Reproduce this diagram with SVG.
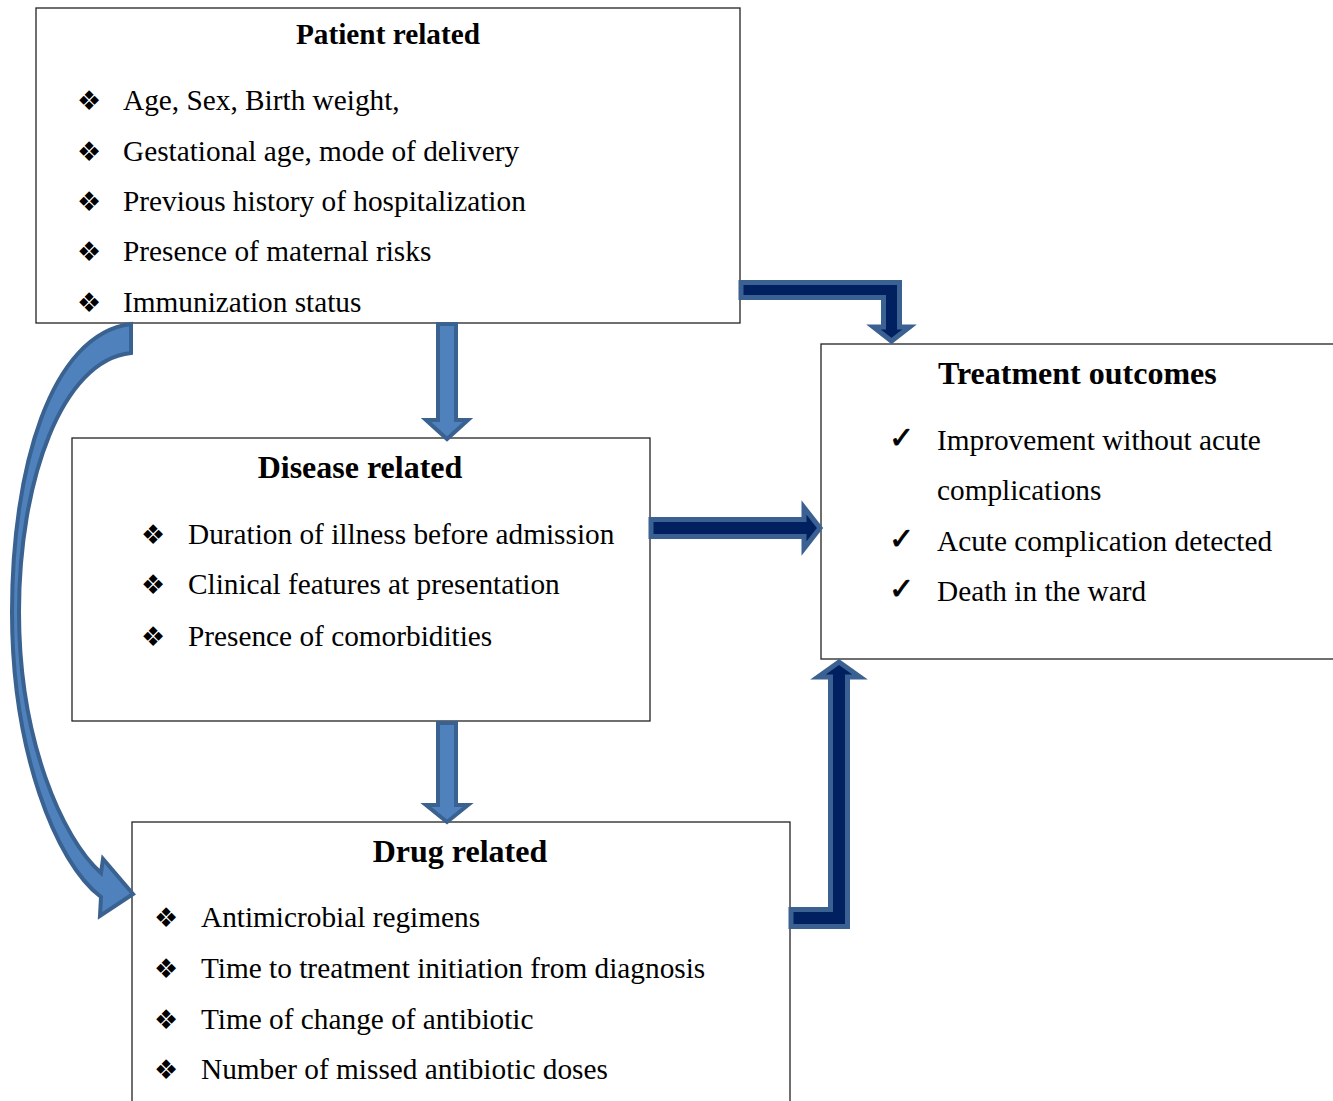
<svg xmlns="http://www.w3.org/2000/svg" width="1333" height="1101" viewBox="0 0 1333 1101">
<style>
.box{fill:#fff;stroke:#222;stroke-width:1.3}
.t{font-family:"Liberation Serif","Times New Roman",serif;font-size:29.3px;fill:#000}
.h{font-weight:bold;font-size:32px}
.hp{font-weight:bold;font-size:29.3px}
.b{font-family:"DejaVu Sans",sans-serif;font-size:27px;fill:#000}
.c{font-family:"DejaVu Sans",sans-serif;font-size:30px;fill:#000;stroke:#000;stroke-width:0.8}
.dark{fill:#002060;stroke:#3b6192;stroke-width:5;stroke-linejoin:miter}
.light{fill:#4f81bd;stroke:#3a6291;stroke-width:4;stroke-linejoin:miter}
</style>
<rect width="1333" height="1101" fill="#fff"/>
<g id="patient">
<rect class="box" x="36" y="8" width="704" height="315"/>
<text class="t hp" x="388" y="44" text-anchor="middle">Patient related</text>
<text class="b" x="77" y="110">❖</text><text class="t" x="123" y="110">Age, Sex, Birth weight,</text>
<text class="b" x="77" y="161">❖</text><text class="t" x="123" y="161">Gestational age, mode of delivery</text>
<text class="b" x="77" y="211">❖</text><text class="t" x="123" y="211">Previous history of hospitalization</text>
<text class="b" x="77" y="261">❖</text><text class="t" x="123" y="261">Presence of maternal risks</text>
<text class="b" x="77" y="312">❖</text><text class="t" x="123" y="312">Immunization status</text>
</g>
<g id="disease">
<rect class="box" x="72" y="438" width="578" height="283"/>
<text class="t h" x="360" y="478" text-anchor="middle">Disease related</text>
<text class="b" x="141" y="544">❖</text><text class="t" x="188" y="544">Duration of illness before admission</text>
<text class="b" x="141" y="594">❖</text><text class="t" x="188" y="594">Clinical features at presentation</text>
<text class="b" x="141" y="646">❖</text><text class="t" x="188" y="646">Presence of comorbidities</text>
</g>
<g id="drug">
<rect class="box" x="132" y="822" width="658" height="290"/>
<text class="t h" x="460" y="862" text-anchor="middle">Drug related</text>
<text class="b" x="154" y="927">❖</text><text class="t" x="201" y="927">Antimicrobial regimens</text>
<text class="b" x="154" y="978">❖</text><text class="t" x="201" y="978">Time to treatment initiation from diagnosis</text>
<text class="b" x="154" y="1029">❖</text><text class="t" x="201" y="1029">Time of change of antibiotic</text>
<text class="b" x="154" y="1079">❖</text><text class="t" x="201" y="1079">Number of missed antibiotic doses</text>
</g>
<g id="outcomes">
<rect class="box" x="821" y="344" width="530" height="315"/>
<text class="t h" x="938" y="384">Treatment outcomes</text>
<text class="c" x="889" y="448">✓</text><text class="t" x="937" y="450">Improvement without acute</text>
<text class="t" x="937" y="500">complications</text>
<text class="c" x="889" y="549">✓</text><text class="t" x="937" y="551">Acute complication detected</text>
<text class="c" x="889" y="599">✓</text><text class="t" x="937" y="601">Death in the ward</text>
</g>
<g id="connectors">
<path class="dark" d="M741,282.5 H899.5 V327 H909.5 L891.5,341 L873.5,327 H883.5 V297.5 H741 Z"/>
<path class="light" d="M438,324 H456 V420 H468 L447,439 L426,420 H438 Z"/>
<path class="dark" d="M651,519.5 H804 V507.5 L820,528 L804,548.5 V536.5 H651 Z"/>
<path class="dark" d="M791,909.5 H830.5 V677 H818 L839,662 L860,677 H847.5 V926.5 H791 Z"/>
<path class="light" d="M438,723 H456 V805 H468 L447,822 L426,805 H438 Z"/>
<path class="light" d="M131,324 C50,334 12,470 12,612 C12,750 55,862 101,897 L100,916 L133,894 L103,859 L101,873 C62,838 19,740 19,612 C19,480 62,360 131,353 Z"/>
</g>
</svg>
